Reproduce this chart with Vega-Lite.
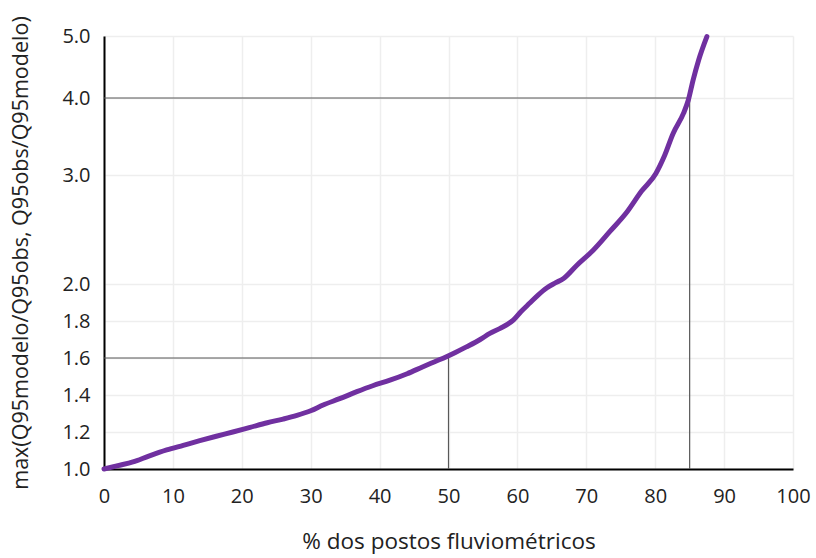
{
  "$schema": "https://vega.github.io/schema/vega-lite/v6.json",
  "width": 689,
  "height": 433,
  "autosize": {"type": "none"},
  "padding": {"left": 104, "top": 36, "right": 23, "bottom": 89},
  "background": "#ffffff",
  "config": {
    "view": {"stroke": null},
    "font": "Open Sans",
    "axis": {
      "grid": true,
      "gridColor": "#eeeeee",
      "gridWidth": 1.5,
      "domainColor": "#000000",
      "domainWidth": 2,
      "ticks": false,
      "labelFont": "Open Sans",
      "labelFontSize": 20,
      "labelColor": "#222222",
      "labelFlush": false,
      "titleFont": "Open Sans",
      "titleFontSize": 22.5,
      "titleFontWeight": "normal",
      "titleColor": "#222222"
    }
  },
  "layer": [
    {
      "data": {
        "values": [
          {"x": 0, "x2": 85, "y": 4, "y2": 4},
          {"x": 85, "x2": 85, "y": 1, "y2": 4},
          {"x": 0, "x2": 50, "y": 1.6, "y2": 1.6},
          {"x": 50, "x2": 50, "y": 1, "y2": 1.6}
        ]
      },
      "mark": {"type": "rule", "color": "#595959", "strokeWidth": 1.2},
      "encoding": {
        "x": {"field": "x", "type": "quantitative"},
        "x2": {"field": "x2"},
        "y": {"field": "y", "type": "quantitative"},
        "y2": {"field": "y2"}
      }
    },
    {
      "data": {
        "values": [
          {"x": 0, "y": 1.0},
          {"x": 2, "y": 1.018},
          {"x": 4.2, "y": 1.038},
          {"x": 6.5, "y": 1.07},
          {"x": 9.1, "y": 1.103},
          {"x": 11.5, "y": 1.128},
          {"x": 13.9, "y": 1.153},
          {"x": 16.3, "y": 1.177},
          {"x": 18.7, "y": 1.2},
          {"x": 21.2, "y": 1.225},
          {"x": 23.7, "y": 1.25},
          {"x": 26, "y": 1.27},
          {"x": 28, "y": 1.29},
          {"x": 30, "y": 1.315},
          {"x": 31.8, "y": 1.346},
          {"x": 34.2, "y": 1.38},
          {"x": 36.7, "y": 1.418},
          {"x": 39, "y": 1.45},
          {"x": 41.5, "y": 1.48},
          {"x": 44, "y": 1.515},
          {"x": 46.3, "y": 1.553},
          {"x": 48, "y": 1.58},
          {"x": 49.7, "y": 1.607},
          {"x": 51, "y": 1.63},
          {"x": 52.6, "y": 1.66},
          {"x": 54.6, "y": 1.7},
          {"x": 56, "y": 1.733},
          {"x": 57.5, "y": 1.76},
          {"x": 59.4, "y": 1.805},
          {"x": 60.5, "y": 1.85},
          {"x": 61.8, "y": 1.897},
          {"x": 63, "y": 1.94},
          {"x": 64.3, "y": 1.98},
          {"x": 65.5, "y": 2.01},
          {"x": 66.7, "y": 2.05},
          {"x": 68.6, "y": 2.17},
          {"x": 71, "y": 2.31},
          {"x": 73.4, "y": 2.48},
          {"x": 75.9, "y": 2.66},
          {"x": 78, "y": 2.85},
          {"x": 80.1, "y": 3.02},
          {"x": 81.3, "y": 3.24},
          {"x": 82.6, "y": 3.54},
          {"x": 84.1, "y": 3.8},
          {"x": 84.8, "y": 3.97},
          {"x": 85.5, "y": 4.29},
          {"x": 86.3, "y": 4.61},
          {"x": 87.5, "y": 4.99}
        ]
      },
      "mark": {"type": "line", "color": "#7030A0", "strokeWidth": 5, "strokeCap": "round", "strokeJoin": "round", "interpolate": "monotone"},
      "encoding": {
        "x": {
          "field": "x",
          "type": "quantitative",
          "scale": {"domain": [0, 100], "nice": false, "zero": false},
          "axis": {
            "values": [0, 10, 20, 30, 40, 50, 60, 70, 80, 90, 100],
            "title": "% dos postos fluviométricos",
            "labelPadding": 17,
            "titlePadding": 24
          }
        },
        "y": {
          "field": "y",
          "type": "quantitative",
          "scale": {"type": "linear", "domain": [1, 2, 3, 4, 5], "range": [433, 248, 139, 62, 0], "nice": false, "zero": false},
          "axis": {
            "values": [1, 1.2, 1.4, 1.6, 1.8, 2, 3, 4, 5],
            "format": ".1f",
            "title": "max(Q95modelo/Q95obs, Q95obs/Q95modelo)",
            "titleFontSize": 21.5,
            "labelPadding": 14,
            "titlePadding": 29
          }
        }
      }
    }
  ]
}
